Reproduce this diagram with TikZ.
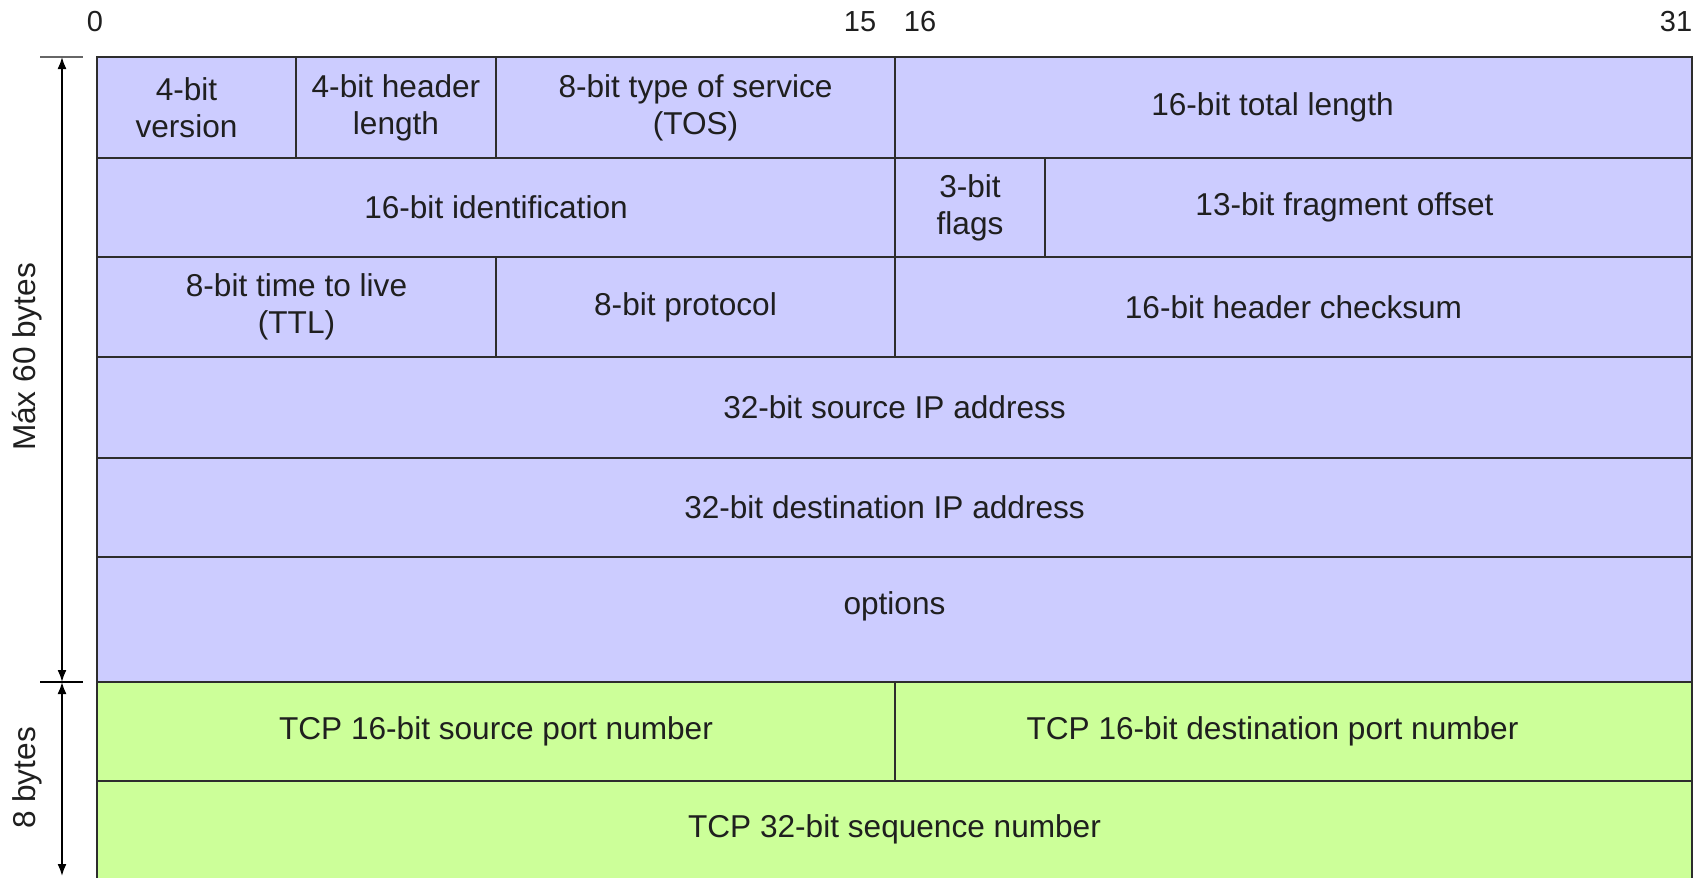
\documentclass[tikz,border=0pt]{standalone}
\usepackage{fontspec}
\setmainfont{Liberation Sans}
\usetikzlibrary{arrows.meta}

\definecolor{hdrblue}{RGB}{204,204,255}
\definecolor{tcpgreen}{RGB}{204,255,153}
\definecolor{hdrrule}{RGB}{45,45,45}
\tikzset{field/.style={draw=hdrrule, line width=1pt, inner sep=0pt, outer sep=0pt, align=center, text=black!88, font=\fontsize{15.8}{18.6}\selectfont}}
\tikzset{ipfield/.style={field, fill=hdrblue}}
\tikzset{tcpfield/.style={field, fill=tcpgreen}}
\tikzset{fieldtext/.style={text=black!88, align=center, font=\fontsize{15.8}{18.6}\selectfont}}
\tikzset{bitnum/.style={text=black!88, font=\fontsize{14.5}{16}\selectfont}}
\tikzset{dimline/.style={line width=0.9pt, {Latex[length=6pt,width=4.5pt]}-{Latex[length=6pt,width=4.5pt]}}}

\begin{document}
\begin{tikzpicture}[x=0.5pt, y=-0.5pt]
    \useasboundingbox (0,0) rectangle (1694,878);

    % bit numbers
    \node[bitnum] (b0) at (95, 22) {0};
    \node[bitnum] (b15) at (860, 22) {15};
    \node[bitnum] (b16) at (920, 22) {16};
    \node[bitnum] (b31) at (1676, 22) {31};

    % IP header
    \node[ipfield, minimum width=99.5pt, minimum height=50.5pt,
          label={[fieldtext, xshift=-5pt]center:4-bit\\version}] (ver) at (196.5, 107.5) {};
    \node[ipfield, minimum width=100pt, minimum height=50.5pt] (ihl) at (396, 107.5) {4-bit header\\length};
    \node[ipfield, minimum width=199.5pt, minimum height=50.5pt] (tos) at (695.5, 107.5) {8-bit type of service\\(TOS)};
    \node[ipfield, minimum width=398.5pt, minimum height=50.5pt,
          label={[fieldtext, xshift=-10.5pt]center:16-bit total length}] (totlen) at (1293.5, 107.5) {};

    \node[ipfield, minimum width=399pt, minimum height=49.5pt] (ident) at (496, 207.5) {16-bit identification};
    \node[ipfield, minimum width=75pt, minimum height=49.5pt] (flags) at (970, 207.5) {3-bit\\flags};
    \node[ipfield, minimum width=323.5pt, minimum height=49.5pt,
          label={[fieldtext, xshift=-12pt]center:13-bit fragment offset}] (fragoff) at (1368.5, 207.5) {};

    \node[ipfield, minimum width=199.5pt, minimum height=50pt] (ttl) at (296.5, 307) {8-bit time to live\\(TTL)};
    \node[ipfield, minimum width=199.5pt, minimum height=50pt,
          label={[fieldtext, xshift=-5pt]center:8-bit protocol}] (proto) at (695.5, 307) {};
    \node[ipfield, minimum width=398.5pt, minimum height=50pt] (hcsum) at (1293.5, 307) {16-bit header checksum};

    \node[ipfield, minimum width=797.5pt, minimum height=50.5pt] (srcip) at (894.5, 407.5) {32-bit source IP address};
    \node[ipfield, minimum width=797.5pt, minimum height=49.5pt,
          label={[fieldtext, xshift=-5pt]center:32-bit destination IP address}] (dstip) at (894.5, 507.5) {};
    \node[ipfield, minimum width=797.5pt, minimum height=62.5pt,
          label={[fieldtext, yshift=6.5pt]center:options}] (opts) at (894.5, 619.5) {};

    % TCP ports and sequence
    \node[tcpfield, minimum width=399pt, minimum height=49.5pt] (srcport) at (496, 731.5) {TCP 16-bit source port number};
    \node[tcpfield, minimum width=398.5pt, minimum height=49.5pt,
          label={[fieldtext, xshift=-10.5pt]center:TCP 16-bit destination port number}] (dstport) at (1293.5, 731.5) {};
    \node[tcpfield, draw=none, minimum width=797.5pt, minimum height=48.5pt] (seqnum) at (894.5, 829.5) {TCP 32-bit sequence number};
    \draw[hdrrule, line width=1pt] (seqnum.south west) -- (seqnum.north west) -- (seqnum.north east) -- (seqnum.south east);

    % sizes
    \coordinate (ipTop) at (62, 57);
    \coordinate (ipBot) at (62, 682);
    \coordinate (tcpBot) at (62, 876);
    \draw[black!60, line width=1pt] ([xshift=-11pt]ipTop) -- ([xshift=10.5pt]ipTop);
    \draw[black, line width=1pt] ([xshift=-11pt]ipBot) -- ([xshift=10.5pt]ipBot);
    \draw[dimline] (ipTop) -- (ipBot);
    \draw[dimline] (ipBot) -- (tcpBot);
    \node[fieldtext, rotate=90] (ipsize) at (27, 357) {Máx 60 bytes};
    \node[fieldtext, rotate=90] (tcpsize) at (27, 778) {8 bytes};

\end{tikzpicture}
\end{document}
